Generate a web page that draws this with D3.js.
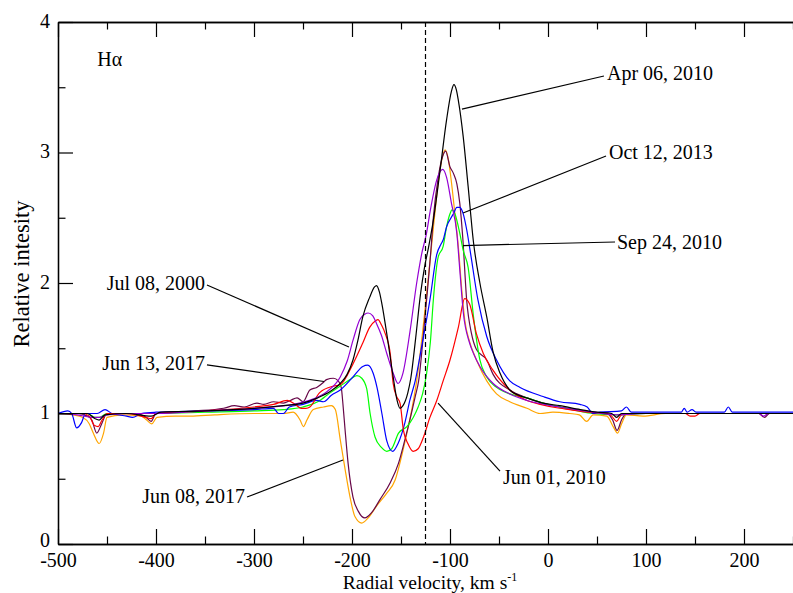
<!DOCTYPE html>
<html>
<head>
<meta charset="utf-8">
<script src="https://cdn.jsdelivr.net/npm/d3@7"></script>
<style>
  body { margin: 0; background: #fff; }
  svg { display: block; }
  svg text { font-family: "Liberation Serif", "DejaVu Serif", serif; fill: #000; }
</style>
</head>
<body>
<svg id="chart" width="793" height="593"></svg>
<script>
// H-alpha profiles, [radial velocity km/s, relative intensity]
const apr06_2010 = [
  [-500,1.0],[-470,1.0],[-462,0.96],[-458,0.95],[-452,0.99],[-430,1.0],[-405,0.98],[-395,1.01],
  [-350,1.02],[-300,1.04],[-270,1.06],[-250,1.08],[-235,1.12],[-222,1.17],[-212,1.23],[-205,1.3],
  [-199,1.41],[-194,1.56],[-189,1.74],[-182,1.89],[-177,1.97],[-175,1.98],[-172,1.93],[-169.5,1.84],
  [-164.5,1.61],[-158,1.28],[-154,1.1],[-151,1.04],[-148,1.06],[-143,1.16],[-140,1.27],[-135,1.58],
  [-130,1.92],[-126,2.12],[-122,2.27],[-117,2.48],[-110,2.87],[-103.5,3.25],[-98.5,3.47],[-96,3.52],
  [-93.5,3.48],[-91.5,3.4],[-86.5,3.12],[-81.5,2.74],[-76,2.31],[-69.5,2.0],[-62.5,1.74],[-56,1.47],
  [-49,1.31],[-39,1.18],[-30,1.14],[-22,1.12],[-5,1.08],[12,1.06],[33,1.03],[50,1.01],[65,1.0],
  [70,0.97],[75,1.0],[100,1.0],[150,1.0],[200,1.0],[250,1.0]
];
const jul08_2000 = [
  [-500,1.0],[-480,0.99],[-465,0.97],[-458,0.97],[-450,0.99],[-420,1.0],[-400,1.0],[-350,1.02],
  [-300,1.04],[-260,1.07],[-240,1.11],[-225,1.17],[-212,1.28],[-205,1.4],[-199,1.56],[-192,1.72],
  [-187,1.76],[-183.5,1.77],[-179,1.75],[-175,1.69],[-170,1.6],[-164.5,1.46],[-158,1.31],[-153,1.23],
  [-148,1.31],[-141,1.62],[-134,2.0],[-129,2.22],[-124,2.38],[-120,2.56],[-113.5,2.79],[-107.5,2.87],
  [-103.5,2.81],[-98.5,2.61],[-93,2.38],[-90,2.1],[-86.5,1.78],[-80,1.54],[-76,1.46],[-69.5,1.36],
  [-56,1.23],[-39,1.15],[-21.5,1.1],[12,1.05],[46,1.01],[70,0.99],[100,1.0],[150,1.0],[215,1.0],
  [220,0.98],[225,1.0],[250,1.0]
];
const oct12_2013 = [
  [-500,1.0],[-490,1.02],[-486,1.0],[-481,0.89],[-476,0.93],[-472,1.0],[-460,1.0],[-452,1.03],
  [-445,1.0],[-430,0.98],[-424,0.97],[-415,1.0],[-400,1.01],[-350,1.02],[-300,1.03],[-280,1.04],
  [-275,1.0],[-270,1.0],[-264,1.05],[-250,1.07],[-236,1.1],[-229,1.09],[-221,1.14],[-212,1.18],
  [-199,1.28],[-189,1.36],[-184,1.37],[-178.5,1.31],[-174.5,1.2],[-169.5,1.0],[-164.5,0.79],
  [-158.5,0.71],[-153,0.77],[-146,0.93],[-141,1.1],[-135.5,1.25],[-128,1.55],[-120.5,1.87],
  [-113.5,2.22],[-109,2.3],[-107,2.33],[-103.5,2.43],[-96.5,2.53],[-93,2.58],[-90,2.58],[-86.5,2.53],
  [-83,2.41],[-79.5,2.25],[-71.5,1.87],[-62.5,1.59],[-52.5,1.41],[-39,1.25],[-28.5,1.2],[-5,1.13],
  [12,1.09],[32.5,1.07],[40,1.05],[46,1.0],[53,1.01],[75,1.02],[80,1.05],[85,1.01],[100,1.01],
  [136,1.01],[139,1.04],[142,1.01],[147,1.03],[151,1.01],[180,1.01],[184,1.05],[188,1.01],[210,1.01],[250,1.01]
];
const sep24_2010 = [
  [-500,1.0],[-470,1.0],[-462,0.97],[-458,0.97],[-450,1.0],[-400,1.0],[-350,1.01],[-300,1.02],
  [-270,1.03],[-250,1.05],[-235,1.09],[-222,1.16],[-212,1.21],[-202,1.26],[-195,1.29],[-190,1.27],
  [-185,1.19],[-181.5,1.0],[-176.5,0.82],[-170,0.74],[-164.5,0.71],[-159.5,0.73],[-152.5,0.85],
  [-144,0.9],[-137.5,0.97],[-132.5,1.05],[-128,1.15],[-124,1.3],[-120,1.55],[-117,1.87],[-112,2.2],
  [-107,2.28],[-103.5,2.43],[-100,2.53],[-98,2.56],[-95,2.53],[-90,2.38],[-86.5,2.25],[-81.5,2.12],
  [-76,1.74],[-69.5,1.41],[-62.5,1.28],[-52.5,1.2],[-39,1.15],[-21.5,1.12],[-5,1.08],[12,1.05],
  [46,1.0],[70,0.99],[100,1.0],[250,1.0]
];
const jun01_2010 = [
  [-500,1.0],[-475,1.0],[-468,0.98],[-463,0.91],[-459,0.9],[-455,0.95],[-450,1.0],[-430,1.0],
  [-410,0.97],[-405,0.96],[-400,1.0],[-350,1.02],[-300,1.05],[-280,1.07],[-266,1.1],[-258,1.07],
  [-252,1.04],[-247,1.04],[-243,1.05],[-233,1.16],[-219,1.21],[-212,1.22],[-199,1.38],[-189,1.54],
  [-182,1.66],[-176,1.71],[-173.5,1.72],[-170,1.68],[-166,1.61],[-161,1.46],[-158,1.23],[-154.5,1.13],
  [-151,1.08],[-147.5,0.87],[-143,0.77],[-137.5,0.71],[-132.5,0.73],[-127,0.82],[-120.5,0.97],
  [-113.5,1.1],[-107,1.25],[-100,1.41],[-91.5,1.66],[-85,1.88],[-80,1.84],[-73,1.61],[-66,1.46],
  [-56,1.33],[-39,1.18],[-21.5,1.1],[-8,1.07],[12,1.04],[22,1.03],[40,1.01],[60,1.0],[65,0.98],
  [70,0.94],[75,0.99],[90,1.0],[140,1.0],[145,0.98],[150,0.98],[155,1.0],[250,1.0]
];
const jun08_2017 = [
  [-500,1.0],[-485,0.99],[-474.5,0.97],[-468,0.92],[-464,0.85],[-458,0.77],[-453.5,0.85],[-450,0.97],
  [-434,0.99],[-415,0.98],[-409.5,0.95],[-404.5,0.92],[-399,0.97],[-380,0.98],[-365,0.98],[-340,0.99],
  [-300,1.0],[-270,1.0],[-260,1.01],[-253,0.95],[-249.5,0.9],[-246,0.95],[-239.5,1.03],[-229,1.05],
  [-221,1.06],[-217,1.03],[-212,0.8],[-207,0.57],[-202,0.36],[-197,0.21],[-190,0.16],[-183.5,0.2],
  [-175,0.29],[-164.5,0.39],[-156,0.49],[-149.5,0.67],[-144,0.85],[-139,1.03],[-134,1.25],[-128,1.62],
  [-122,2.05],[-117,2.42],[-112,2.77],[-108.5,2.94],[-105,3.02],[-101.5,2.94],[-98.5,2.77],[-95,2.53],
  [-91.5,2.28],[-88,1.95],[-85,1.72],[-80,1.55],[-73,1.41],[-62.5,1.25],[-52.5,1.15],[-39,1.09],
  [-21.5,1.04],[-8,1.0],[5,1.01],[22,1.0],[32,0.99],[39.5,0.94],[46,0.99],[60,0.98],[66.5,0.9],
  [71,0.85],[75,0.92],[80,0.99],[97,0.98],[120,1.0],[250,1.0]
];
const jun13_2017 = [
  [-500,1.0],[-480,1.0],[-470,0.98],[-465.5,0.95],[-460.5,0.85],[-455.5,0.92],[-450,1.0],[-420,1.0],
  [-410,0.97],[-405,0.94],[-400,1.0],[-380,1.01],[-360,1.02],[-331,1.04],[-320,1.06],[-310,1.05],
  [-297,1.08],[-290,1.07],[-280,1.09],[-270,1.08],[-263,1.1],[-256,1.12],[-250,1.09],[-243,1.18],
  [-236,1.2],[-229,1.24],[-226,1.26],[-219,1.27],[-214,1.25],[-211,1.2],[-209,1.05],[-207,0.87],
  [-204,0.62],[-199,0.36],[-193.5,0.25],[-187,0.2],[-180,0.24],[-171.5,0.34],[-161,0.47],[-152.5,0.62],
  [-146,0.8],[-141,0.95],[-135.5,1.13],[-132,1.25],[-126,1.7],[-119.5,2.25],[-117,2.5],[-112,2.81],
  [-107.5,2.97],[-104.5,3.01],[-100,2.89],[-96.5,2.84],[-93,2.76],[-90,2.61],[-87,2.35],[-83,1.87],
  [-78,1.61],[-73,1.49],[-62.5,1.41],[-56,1.3],[-39,1.18],[-21.5,1.12],[-5,1.08],[12,1.05],[29,1.03],
  [46,1.01],[60,1.0],[66,0.95],[70.5,0.87],[75,0.95],[80,1.0],[100,1.0],[150,1.0],[215,1.0],
  [221,0.97],[226,1.0],[250,1.0]
];

const series = [
  {name: "Jun 08, 2017", data: jun08_2017, color: "#ffa500"},
  {name: "Jun 13, 2017", data: jun13_2017, color: "#670748"},
  {name: "Sep 24, 2010", data: sep24_2010, color: "#00ff00"},
  {name: "Oct 12, 2013", data: oct12_2013, color: "#0000ff"},
  {name: "Jun 01, 2010", data: jun01_2010, color: "#ff0000"},
  {name: "Jul 08, 2000", data: jul08_2000, color: "#9400d3"},
  {name: "Apr 06, 2010", data: apr06_2010, color: "#000000"}
];

const xMajor = [-500, -400, -300, -200, -100, 0, 100, 200];
const xMinor = [-450, -350, -250, -150, -50, 50, 150, 250];
const yMajor = [0, 1, 2, 3, 4];
const yMinor = [0.5, 1.5, 2.5, 3.5];
const restVelocity = -125;

// label text anchor, pointer start, pointer end (data units)
const labels = [
  {text: "Apr 06, 2010", at: [60.2, 3.556], anchor: "start", from: [57.1, 3.586], to: [-87.8, 3.333]},
  {text: "Oct 12, 2013", at: [62.2, 2.95], anchor: "start", from: [59.2, 2.973], to: [-86.7, 2.536]},
  {text: "Sep 24, 2010", at: [70.4, 2.261], anchor: "start", from: [68.4, 2.314], to: [-86.7, 2.287]},
  {text: "Jul 08, 2000", at: [-350, 1.946], anchor: "end", from: [-348, 1.985], to: [-203.1, 1.51]},
  {text: "Jun 13, 2017", at: [-350, 1.333], anchor: "end", from: [-348, 1.372], to: [-228.6, 1.245]},
  {text: "Jun 08, 2017", at: [-309.2, 0.314], anchor: "end", from: [-307.1, 0.36], to: [-209.2, 0.644]},
  {text: "Jun 01, 2010", at: [-45.9, 0.46], anchor: "start", from: [-49, 0.559], to: [-112.2, 1.08]}
];

const width = 793, height = 593;
const margin = {top: 22, right: 0, bottom: 49, left: 58};
const serif = "'Liberation Serif', 'DejaVu Serif', serif";

const x = d3.scaleLinear()
    .domain([-500, 250])
    .range([margin.left, width - margin.right]);

const y = d3.scaleLinear()
    .domain([0, 4])
    .range([height - margin.bottom, margin.top]);

const svg = d3.select("#chart");

svg.append("clipPath")
    .attr("id", "clip")
  .append("rect")
    .attr("x", margin.left)
    .attr("y", margin.top)
    .attr("width", width - margin.left - margin.right)
    .attr("height", height - margin.top - margin.bottom);

const line = d3.line()
    .x(d => x(d[0]))
    .y(d => y(d[1]))
    .curve(d3.curveMonotoneX);

svg.append("g")
    .attr("clip-path", "url(#clip)")
  .selectAll("path")
  .data(series)
  .join("path")
    .attr("fill", "none")
    .attr("stroke", d => d.color)
    .attr("stroke-width", 1.2)
    .attr("stroke-linejoin", "round")
    .attr("d", d => line(d.data));

// rest velocity marker
svg.append("line")
    .attr("x1", x(restVelocity))
    .attr("x2", x(restVelocity))
    .attr("y1", y(4))
    .attr("y2", y(0))
    .attr("stroke", "#000")
    .attr("stroke-width", 1.2)
    .attr("stroke-dasharray", "5,3");

// axes, ticks inward
const fmt = d => String(d);

function styleAxis(g) {
  g.attr("font-family", serif).attr("font-size", 20);
  g.select(".domain").attr("stroke-width", 1.3);
  g.selectAll(".tick line").attr("stroke-width", 1.2);
  g.selectAll(".tick text")
      .style("font-family", serif)
      .style("font-size", "20px")
      .attr("fill", "#000");
}

svg.append("g")
    .attr("transform", `translate(0,${y(0)})`)
    .call(d3.axisBottom(x).tickValues(xMajor).tickFormat(fmt).tickSize(-15).tickSizeOuter(0).tickPadding(8.5))
    .call(styleAxis);

svg.append("g")
    .attr("transform", `translate(0,${y(0)})`)
    .call(d3.axisBottom(x).tickValues(xMinor).tickFormat("").tickSize(-7.5).tickSizeOuter(0))
    .call(styleAxis);

svg.append("g")
    .attr("transform", `translate(0,${y(4)})`)
    .call(d3.axisTop(x).tickValues(xMajor).tickFormat("").tickSize(-15).tickSizeOuter(0))
    .call(styleAxis);

svg.append("g")
    .attr("transform", `translate(0,${y(4)})`)
    .call(d3.axisTop(x).tickValues(xMinor).tickFormat("").tickSize(-7.5).tickSizeOuter(0))
    .call(styleAxis);

svg.append("g")
    .attr("transform", `translate(${x(-500)},0)`)
    .call(d3.axisLeft(y).tickValues(yMajor).tickFormat(fmt).tickSize(-15).tickSizeOuter(0).tickPadding(8))
    .call(styleAxis)
    .call(g => g.selectAll(".tick text").attr("dy", d => d === 0 ? "0.12em" : "0.26em"));

svg.append("g")
    .attr("transform", `translate(${x(-500)},0)`)
    .call(d3.axisLeft(y).tickValues(yMinor).tickFormat("").tickSize(-7.5).tickSizeOuter(0))
    .call(styleAxis);

// axis titles
const xTitle = svg.append("text")
    .attr("x", 430)
    .attr("y", 589)
    .attr("text-anchor", "middle")
    .style("font-size", "19.5px");
xTitle.append("tspan").text("Radial velocity, km s");
xTitle.append("tspan")
    .style("font-size", "12px")
    .attr("dy", -8)
    .text("-1");

svg.append("text")
    .attr("transform", `translate(29,274) rotate(-90)`)
    .attr("text-anchor", "middle")
    .style("font-size", "22.5px")
    .text("Relative intesity");

svg.append("text")
    .attr("x", x(-460))
    .attr("y", y(3.66))
    .style("font-size", "20px")
    .text("H\u03b1");

// date labels with pointers
svg.append("g")
  .selectAll("line")
  .data(labels)
  .join("line")
    .attr("x1", d => x(d.from[0]))
    .attr("y1", d => y(d.from[1]))
    .attr("x2", d => x(d.to[0]))
    .attr("y2", d => y(d.to[1]))
    .attr("stroke", "#000")
    .attr("stroke-width", 1.2);

svg.append("g")
  .selectAll("text")
  .data(labels)
  .join("text")
    .attr("x", d => x(d.at[0]))
    .attr("y", d => y(d.at[1]))
    .attr("text-anchor", d => d.anchor)
    .style("font-size", "20px")
    .text(d => d.text);
</script>
</body>
</html>
